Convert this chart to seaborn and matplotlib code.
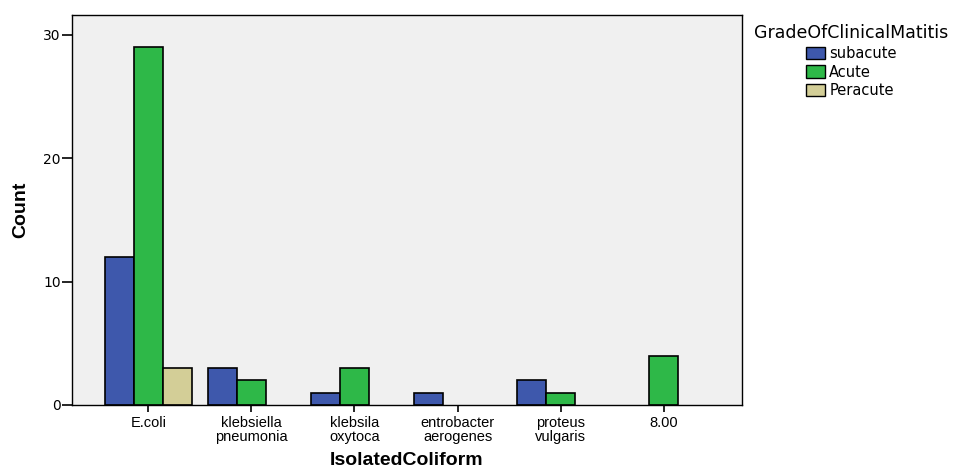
import pandas as pd
import seaborn as sns
from matplotlib import pyplot as plt
from matplotlib.patches import Patch

# Bar chart of isolated coliforms by grade of clinical mastitis

categories = ['E.coli', 'klebsiella\npneumonia', 'klebsila\noxytoca',
              'entrobacter\naerogenes', 'proteus\nvulgaris', '8.00']
grades = ['subacute', 'Acute', 'Peracute']

# counts (only non-empty cells)
bar_coliform = ['E.coli', 'E.coli', 'E.coli',
                'klebsiella\npneumonia', 'klebsiella\npneumonia',
                'klebsila\noxytoca', 'klebsila\noxytoca',
                'entrobacter\naerogenes',
                'proteus\nvulgaris', 'proteus\nvulgaris',
                '8.00']
bar_grade = ['subacute', 'Acute', 'Peracute',
             'subacute', 'Acute',
             'subacute', 'Acute',
             'subacute',
             'subacute', 'Acute',
             'Acute']
bar_count = [12, 29, 3, 3, 2, 1, 3, 1, 2, 1, 4]

colors = ['#3E58AC', '#2EB848', '#D3CE97']

df = pd.DataFrame({'IsolatedColiform': bar_coliform,
                   'GradeOfClinicalMatitis': bar_grade,
                   'Count': bar_count})

sns.set_style('white')
plt.rcParams['font.family'] = ['Liberation Sans', 'DejaVu Sans']
plt.rcParams['text.color'] = 'black'
plt.rcParams['axes.labelcolor'] = 'black'

fig = plt.figure(figsize=(9.65, 4.69), dpi=100)
ax = fig.add_axes([0.0746, 0.1365, 0.6944, 0.8315])
ax.set_facecolor('#F0F0F0')

sns.barplot(data=df, x='IsolatedColiform', y='Count', hue='GradeOfClinicalMatitis',
            order=categories, hue_order=grades, palette=colors,
            width=0.84, edgecolor='black', linewidth=1.2, saturation=1,
            errorbar=None, ax=ax, legend=False)

ax.set_xlim(-0.74, 5.76)
ax.set_ylim(0, 31.6)
ax.set_yticks([0, 10, 20, 30])

for s in ['left', 'top', 'right', 'bottom']:
    ax.spines[s].set_visible(True)
    ax.spines[s].set_color('black')
    ax.spines[s].set_linewidth(1.0)

ax.tick_params(axis='both', which='both', direction='out', width=1.2,
               color='black', labelcolor='black', left=True, bottom=True)
ax.tick_params(axis='x', length=5, pad=3, labelsize=10.5)
ax.tick_params(axis='y', length=7, pad=1)
for lbl in ax.get_yticklabels():
    lbl.set_family(['DejaVu Sans'])
    lbl.set_fontsize(10)
for lbl in ax.get_xticklabels():
    lbl.set_linespacing(0.95)

ax.set_xlabel('IsolatedColiform', fontsize=14, fontweight='bold', labelpad=6, color='black')
ax.set_ylabel('Count', fontsize=14, fontweight='bold', labelpad=10, color='black')

handles = [Patch(facecolor=c, edgecolor='black', linewidth=1.0) for c in colors]
leg = fig.legend(handles, grades, title='GradeOfClinicalMatitis',
                 loc='upper left', bbox_to_anchor=(0.771, 0.97),
                 frameon=False, prop={'family': 'DejaVu Sans', 'size': 10.5},
                 handlelength=1.3, handleheight=0.9, handletextpad=0.3,
                 labelspacing=0.25, borderpad=0.2)
leg.get_title().set_family('DejaVu Sans')
leg.get_title().set_fontsize(12.5)
leg.get_title().set_color('black')
for t in leg.get_texts():
    t.set_color('black')

fig.savefig('out.png', dpi=100)
